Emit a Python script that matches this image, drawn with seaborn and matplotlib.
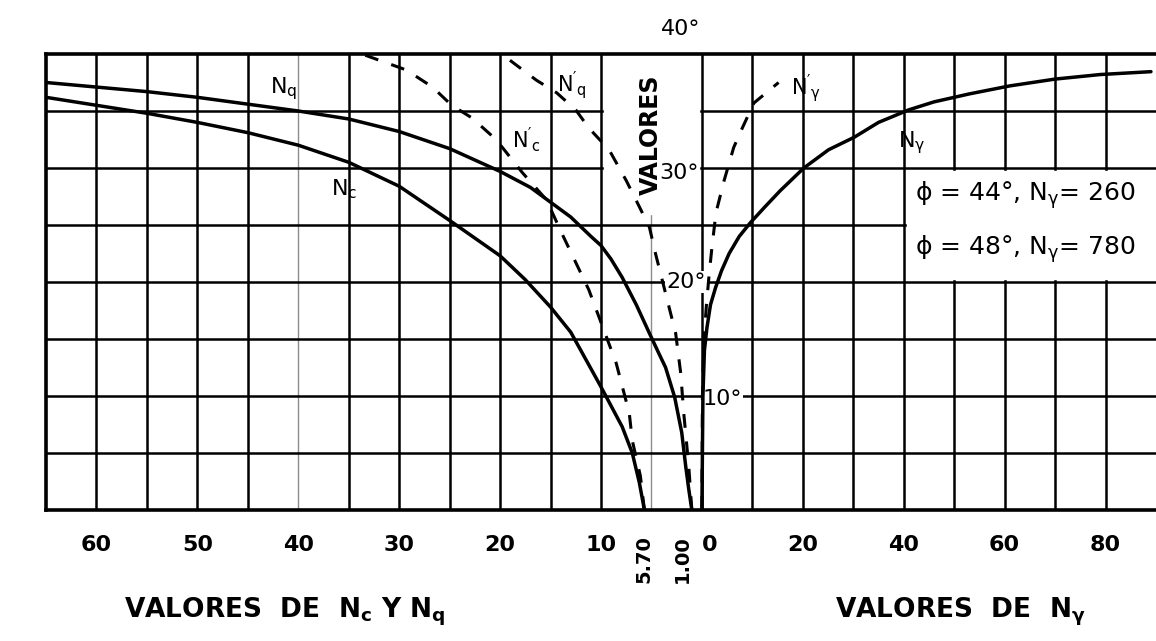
import numpy as np
import pandas as pd
import matplotlib.pyplot as plt
from matplotlib.patches import Rectangle
import seaborn as sns

sns.set_style("white")
plt.rcParams["font.family"] = ["DejaVu Sans"]
plt.rcParams["mathtext.default"] = "regular"
plt.rcParams["text.color"] = "black"
plt.rcParams["xtick.color"] = "black"

# Values (phi in degrees, factor value)
phi_nc = [0, 2.4, 5.0, 7.3, 10.8, 12.4, 15.6, 17.8, 20.2, 22.3, 25.4, 28.4, 30.5, 32.0, 33.1, 34.0, 34.8, 35.5, 36.2]
nc = [5.7, 6.2, 6.9, 7.9, 10.0, 11.0, 13.0, 15.0, 17.5, 20.0, 25.0, 30.0, 35.0, 40.0, 45.0, 50.0, 55.0, 60.0, 65.0]

phi_nq = [0, 1.8, 3.8, 6.8, 9.9, 12.5, 13.8, 15.5, 18.0, 20.4, 22.0, 23.2, 24.0, 25.7, 27.0, 28.3, 29.7,
          31.7, 33.2, 34.3, 35.0, 35.6, 36.2, 36.7, 37.1, 37.5]
nq = [1.0, 1.3, 1.6, 2.0, 2.7, 3.6, 4.3, 5.2, 6.5, 7.9, 9.0, 10.0, 11.0, 13.0, 15.0, 17.0, 20.0,
      25.0, 30.0, 35.0, 40.0, 45.0, 50.0, 55.0, 60.0, 65.0]

phi_nc_loc = [0, 3.0, 6.1, 8.5, 12.9, 19.3, 24.3, 27.2, 29.6, 32.5, 34.4, 35.5, 37.1, 38.6, 40.0]
nc_loc = [5.7, 6.1, 6.9, 7.2, 8.5, 11.2, 13.9, 15.4, 17.8, 20.4, 22.8, 24.8, 26.7, 29.3, 33.7]

phi_nq_loc = [0, 3.8, 8.5, 12.0, 15.5, 19.0, 22.5, 24.8, 26.6, 28.9, 31.6, 33.5, 35.1, 36.6, 37.7, 39.7, 40.0]
nq_loc = [1.0, 1.3, 1.8, 2.1, 2.6, 3.6, 4.6, 5.2, 6.2, 7.5, 9.2, 11.2, 12.5, 14.4, 16.4, 19.4, 19.8]

phi_ng = [0, 10, 14, 16, 18, 19.5, 21, 22.5, 24, 25.2, 26.5, 28, 30, 31.6, 32.7, 34, 35.1,
          35.8, 36.5, 37.2, 37.8, 38.2, 38.45]
ng = [0, 0.2, 0.5, 1.0, 1.7, 2.7, 3.9, 5.4, 7.4, 9.6, 12.3, 15.5, 20.2, 25.1, 30.2, 35.0, 41.0,
      46.0, 53.0, 61.0, 70.0, 79.0, 89.0]

phi_ng_loc = [0, 10, 15, 18, 20.5, 23.1, 26.1, 28.9, 31.8, 33.5, 35.7, 37.5]
ng_loc = [0, 0.1, 0.4, 0.9, 1.4, 2.0, 2.8, 4.4, 6.3, 8.0, 10.3, 15.2]

left_ticks = [60, 50, 40, 30, 20, 10, 5.70, 1.00]
left_labels = ["60", "50", "40", "30", "20", "10", "5.70", "1.00"]
right_ticks = [0, 20, 40, 60, 80]

fig = plt.figure(figsize=(11.56, 6.41), dpi=100)
ax = fig.add_axes([46 / 1156, 131 / 641, 1110 / 1156, 456 / 641])
ax.set_xlim(65, -45)
ax.set_ylim(0, 40)

# grid of the chart
for xv in np.arange(60, -45, -5):
    light = xv in (40, 5)
    ax.axvline(xv, color="0.55" if light else "black", lw=1.0 if light else 1.8, zorder=1)
for yv in range(5, 40, 5):
    ax.axhline(yv, color="black", lw=1.8, zorder=1)

# blank areas behind the labels
ax.add_patch(Rectangle((9.75, 26), -9.5, 15, color="white", zorder=2, clip_on=False))
ax.add_patch(Rectangle((-20.3, 20.3), -26, 9.4, color="white", zorder=2))

solid = dict(color="black", lw=2.5, sort=False, estimator=None, zorder=5)
dashed = dict(color="black", lw=2.2, sort=False, estimator=None, zorder=5, linestyle=(0, (4.5, 4.5)))

sns.lineplot(data=pd.DataFrame({"N": nc, "phi": phi_nc}), x="N", y="phi", ax=ax, **solid)
sns.lineplot(data=pd.DataFrame({"N": nq, "phi": phi_nq}), x="N", y="phi", ax=ax, **solid)
sns.lineplot(data=pd.DataFrame({"N": nc_loc, "phi": phi_nc_loc}), x="N", y="phi", ax=ax, **dashed)
sns.lineplot(data=pd.DataFrame({"N": nq_loc, "phi": phi_nq_loc}), x="N", y="phi", ax=ax, **dashed)

ax2 = ax.twiny()
ax2.set_xlim(-130, 90)
ax2.set_ylim(0, 40)
sns.lineplot(data=pd.DataFrame({"N": ng, "phi": phi_ng}), x="N", y="phi", ax=ax2, **solid)
sns.lineplot(data=pd.DataFrame({"N": ng_loc, "phi": phi_ng_loc}), x="N", y="phi", ax=ax2, **dashed)

# frame and ticks
for a in (ax, ax2):
    a.set_xlabel("")
    a.set_ylabel("")
    a.set_yticks([])
    a.spines["right"].set_visible(False)
for s in ("top", "bottom", "left"):
    ax.spines[s].set_linewidth(2.6)
    ax.spines[s].set_color("black")
    ax2.spines[s].set_visible(False)

ax.set_xticks(left_ticks)
ax.set_xticklabels(left_labels, fontweight="bold")
ax.tick_params(axis="x", length=0, pad=18, labelsize=16)
for lab in ax.get_xticklabels()[-2:]:
    lab.set_rotation(90)
    lab.set_fontsize(14)
ax.get_xticklabels()[-1].set_ha("right")

ax2.xaxis.set_ticks_position("bottom")
ax2.set_xticks(right_ticks)
ax2.set_xticklabels([str(t) for t in right_ticks], fontweight="bold")
ax2.tick_params(axis="x", length=0, pad=18, labelsize=16, labeltop=False, labelbottom=True)
ax2.get_xticklabels()[0].set_ha("left")

# angle and curve labels
wb = dict(facecolor="white", edgecolor="none", pad=1)
ax.text(2.1, 42.2, "40°", fontsize=16, ha="center", va="center", clip_on=False)
ax.text(2.3, 29.6, "30°", fontsize=16, ha="center", va="center", bbox=wb, zorder=3)
ax.text(1.6, 20.0, "20°", fontsize=16, ha="center", va="center", bbox=wb, zorder=3)
ax.text(-2.0, 9.7, "10°", fontsize=16, ha="center", va="center", bbox=wb, zorder=3)
ax.text(5.1, 32.9, "VALORES", fontsize=17, fontweight="bold", rotation=90,
        ha="center", va="center", zorder=3)

ax.text(41.4, 37.0, "$N_q$", fontsize=16, ha="center", va="center", zorder=6)
ax.text(35.4, 28.1, "$N_c$", fontsize=16, ha="center", va="center", zorder=6)
ax.text(17.4, 32.5, "$N'_c$", fontsize=15, ha="center", va="center", zorder=6)
ax.text(12.9, 37.3, "$N'_q$", fontsize=15, ha="center", va="center", zorder=6)
ax2.text(20.6, 37.0, "$N'_\\gamma$", fontsize=15, ha="center", va="center", zorder=6)
ax2.text(41.6, 32.2, "$N_\\gamma$", fontsize=16, ha="center", va="center", zorder=6)

ax2.text(42.3, 27.6, "ϕ = 44°, $N_\\gamma$= 260", fontsize=18, ha="left", va="center", zorder=6)
ax2.text(42.3, 22.9, "ϕ = 48°, $N_\\gamma$= 780", fontsize=18, ha="left", va="center", zorder=6)

fig.text(285 / 1156, 1 - 612 / 641, "VALORES  DE  $N_c$ Y $N_q$", fontsize=19,
         fontweight="bold", ha="center", va="center")
fig.text(960 / 1156, 1 - 612 / 641, "VALORES  DE  $N_\\gamma$", fontsize=19,
         fontweight="bold", ha="center", va="center")

fig.savefig("out.png", dpi=100, facecolor="white")
